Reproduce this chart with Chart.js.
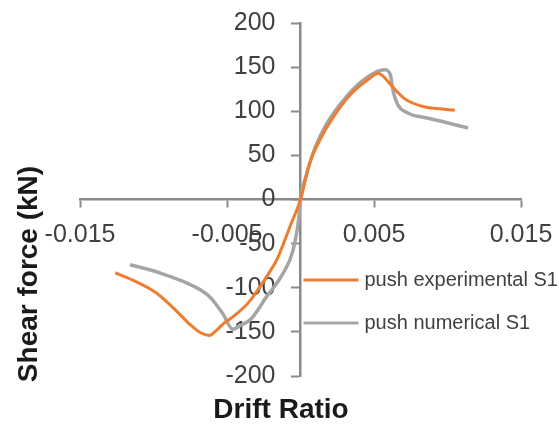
<!DOCTYPE html>
<html>
<head>
<meta charset="utf-8">
<script src="https://cdn.jsdelivr.net/npm/chart.js@4.4.0/dist/chart.umd.min.js"></script>
<style>
  body { margin: 0; background: #ffffff; }
  canvas { display: block; }
</style>
</head>
<body>
<canvas id="shearChart" width="559" height="425"></canvas>
<script>
// Drift ratio / shear force (kN)
const expDrift = [-0.0126, -0.0112, -0.0098, -0.0084, -0.0075, -0.0068, -0.0062, -0.0057, -0.0052, -0.0046, -0.0035, -0.0021, -0.0016, -0.0007, 0, 0.0006, 0.0014, 0.0023, 0.0034, 0.0046, 0.0053, 0.0056, 0.0062, 0.0071, 0.0082, 0.0093, 0.0105];
const expShear = [-83, -93, -106, -127, -142, -151, -154, -148, -140, -133, -116, -82, -68, -30, 0, 40, 70, 95, 119, 136, 143, 140, 129, 114, 106, 103, 101];

const numDrift = [-0.0116, -0.0096, -0.0073, -0.0062, -0.0053, -0.0046, -0.0040, -0.0034, -0.0023, -0.0012, -0.0005, -0.0001, 0, 0.0004, 0.0010, 0.0019, 0.0030, 0.0041, 0.0051, 0.0057, 0.0061, 0.0063, 0.0066, 0.0073, 0.0087, 0.0100, 0.0114];
const numShear = [-74, -83, -98, -110, -129, -147, -142, -136, -110, -84, -57, -19, 0, 28, 59, 89, 114, 133, 144, 147, 142, 123, 108, 98, 92, 87, 81];

const xTicks = [-0.015, -0.005, 0.005, 0.015];
const seriesNames = ['push experimental S1', 'push numerical S1'];
const seriesColors = ['#ed7d31', '#a5a5a5'];

const textColor = '#404040';
const axisColor = '#8a8a8a';
const fontFamily = '"Liberation Sans", Arial, sans-serif';

function toPoints(xs, ys) {
    return xs.map((x, i) => ({ x: x, y: ys[i] }));
}

// Axis titles and the legend beside the y axis
const extraText = {
    id: 'extraText',
    afterDraw(chart) {
        const ctx = chart.ctx;
        const x0 = chart.scales.x.getPixelForValue(0);
        ctx.save();
        ctx.fillStyle = '#1a1a1a';
        ctx.font = 'bold 28px ' + fontFamily;
        ctx.textAlign = 'center';
        ctx.textBaseline = 'middle';
        ctx.fillText('Drift Ratio', 281, 410);
        ctx.translate(29, 274);
        ctx.rotate(-Math.PI / 2);
        ctx.fillText('Shear force (kN)', 0, 0);
        ctx.restore();

        // legend
        ctx.save();
        ctx.font = '20px ' + fontFamily;
        ctx.textAlign = 'left';
        ctx.textBaseline = 'middle';
        seriesNames.forEach((name, i) => {
            const y = 280 + i * 43;
            ctx.strokeStyle = seriesColors[i];
            ctx.lineWidth = 3;
            ctx.beginPath();
            ctx.moveTo(x0 + 3, y);
            ctx.lineTo(x0 + 58, y);
            ctx.stroke();
            ctx.fillStyle = textColor;
            ctx.fillText(name, x0 + 64, y);
        });
        ctx.restore();
    }
};

const ctx = document.getElementById('shearChart').getContext('2d');
const chart = new Chart(ctx, {
    type: 'scatter',
    data: {
        datasets: [
            {
                label: seriesNames[0],
                data: toPoints(expDrift, expShear),
                borderColor: seriesColors[0],
                backgroundColor: seriesColors[0],
                borderWidth: 3,
                showLine: true,
                pointRadius: 0,
                cubicInterpolationMode: 'monotone'
            },
            {
                label: seriesNames[1],
                data: toPoints(numDrift, numShear),
                borderColor: seriesColors[1],
                backgroundColor: seriesColors[1],
                borderWidth: 3.5,
                showLine: true,
                pointRadius: 0,
                cubicInterpolationMode: 'monotone'
            }
        ]
    },
    options: {
        responsive: false,
        animation: false,
        layout: { padding: { left: 80, right: 38, top: 23, bottom: 49 } },
        plugins: {
            legend: { display: false },
            tooltip: { enabled: false }
        },
        scales: {
            x: {
                type: 'linear',
                position: { y: 0 },
                min: -0.015,
                max: 0.015,
                afterBuildTicks: (axis) => {
                    axis.ticks = xTicks.map(v => ({ value: v }));
                },
                // keep the label overhang from shrinking the plot area
                afterFit: (axis) => {
                    axis.paddingLeft = 0;
                    axis.paddingRight = 0;
                },
                ticks: {
                    color: textColor,
                    font: { family: fontFamily, size: 25 },
                    padding: 14,
                    maxRotation: 0,
                    autoSkip: false,
                    callback: (v) => String(v)
                },
                grid: {
                    drawOnChartArea: false,
                    drawTicks: true,
                    tickLength: 7,
                    tickColor: axisColor,
                    tickWidth: 2
                },
                border: { color: axisColor, width: 2.5 }
            },
            y: {
                type: 'linear',
                position: { x: 0 },
                min: -200,
                max: 200,
                afterFit: (axis) => {
                    axis.paddingTop = 0;
                    axis.paddingBottom = 0;
                },
                ticks: {
                    stepSize: 50,
                    color: textColor,
                    font: { family: fontFamily, size: 25 },
                    padding: 0,
                    // labels sit flush on a centred axis, so pad them on the right
                    callback: (v) => v + '\u2002\u2002'
                },
                grid: {
                    drawOnChartArea: false,
                    drawTicks: true,
                    tickLength: 8,
                    tickColor: axisColor,
                    tickWidth: 2
                },
                border: { color: axisColor, width: 2.5 }
            }
        }
    },
    plugins: [extraText]
});
</script>
</body>
</html>
